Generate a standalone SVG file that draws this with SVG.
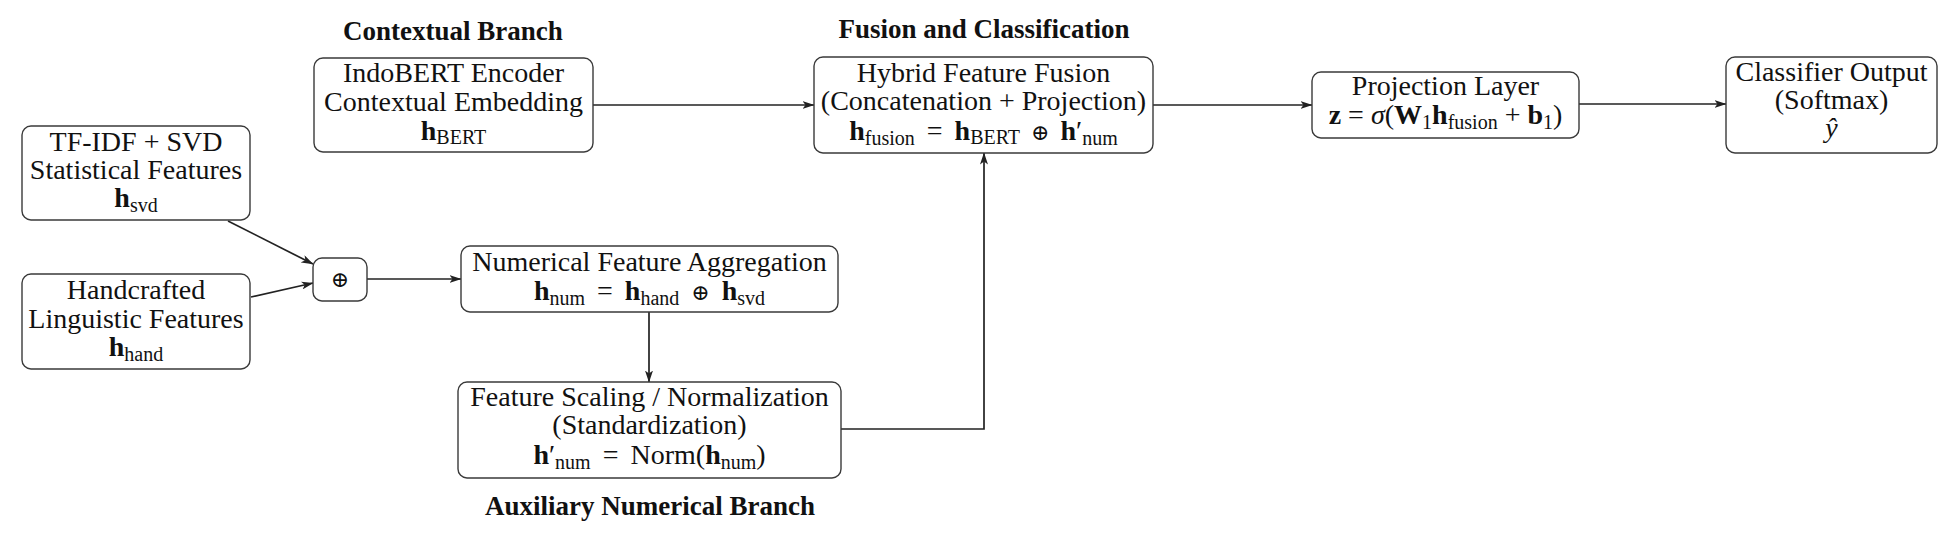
<svg xmlns="http://www.w3.org/2000/svg" width="1956" height="541" viewBox="0 0 1956 541">
<style>
.box{fill:#fff;stroke:#3a3a3a;stroke-width:1.4}
.t{font-family:"Liberation Serif","Times New Roman",serif;font-size:28px;fill:#111;text-anchor:middle}
.title{font-family:"Liberation Serif","Times New Roman",serif;font-size:27px;font-weight:bold;fill:#111;text-anchor:middle}
.b{font-weight:bold}
.s{font-size:20px}
.i{font-style:italic}
.op{font-family:"DejaVu Serif","Liberation Serif",serif;font-size:22px}
.edge{fill:none;stroke:#222;stroke-width:1.7}
</style>
<defs>
<marker id="arr" viewBox="0 0 12 8" refX="11.5" refY="4" markerWidth="12" markerHeight="8" markerUnits="userSpaceOnUse" orient="auto">
<path d="M0,0 L12,4 L0,8 L3,4 z" fill="#222"/>
</marker>
</defs>
<rect width="1956" height="541" fill="#fff"/>

<text class="title" x="453" y="40">Contextual Branch</text>
<text class="title" x="984" y="38">Fusion and Classification</text>
<text class="title" x="650" y="515">Auxiliary Numerical Branch</text>

<g id="connectors">
<path class="edge" d="M593,105 H814" marker-end="url(#arr)"/>
<path class="edge" d="M1153,105 H1312" marker-end="url(#arr)"/>
<path class="edge" d="M1579,104 H1726" marker-end="url(#arr)"/>
<path class="edge" d="M228,221 L313,264" marker-end="url(#arr)"/>
<path class="edge" d="M251,297 L313,283" marker-end="url(#arr)"/>
<path class="edge" d="M367,279 H461" marker-end="url(#arr)"/>
<path class="edge" d="M649,312 V382" marker-end="url(#arr)"/>
<path class="edge" d="M841,429 H984 V153" marker-end="url(#arr)"/>
</g>

<g id="tfidf">
<rect class="box" x="22" y="126" width="228" height="94" rx="9"/>
<text class="t" x="136" y="151">TF-IDF + SVD</text>
<text class="t" x="136" y="179">Statistical Features</text>
<text class="t" x="136" y="207"><tspan class="b">h</tspan><tspan class="s" dy="5">svd</tspan></text>
</g>

<g id="handcrafted">
<rect class="box" x="22" y="274" width="228" height="95" rx="9"/>
<text class="t" x="136" y="299">Handcrafted</text>
<text class="t" x="136" y="328">Linguistic Features</text>
<text class="t" x="136" y="356"><tspan class="b">h</tspan><tspan class="s" dy="5">hand</tspan></text>
</g>

<g id="concat">
<rect class="box" x="313" y="258" width="54" height="43" rx="9"/>
<text class="t op" x="340" y="287">⊕</text>
</g>

<g id="indobert">
<rect class="box" x="314" y="58" width="279" height="94" rx="9"/>
<text class="t" x="453.5" y="82">IndoBERT Encoder</text>
<text class="t" x="453.5" y="111">Contextual Embedding</text>
<text class="t" x="453.5" y="140"><tspan class="b">h</tspan><tspan class="s" dy="4">BERT</tspan></text>
</g>

<g id="fusion">
<rect class="box" x="814" y="57" width="339" height="96" rx="9"/>
<text class="t" x="983.5" y="82">Hybrid Feature Fusion</text>
<text class="t" x="983.5" y="110">(Concatenation + Projection)</text>
<text class="t" x="983.5" y="140"><tspan class="b">h</tspan><tspan class="s" dy="5">fusion</tspan><tspan dx="5" dy="-5"> = </tspan><tspan class="b" dx="5">h</tspan><tspan class="s" dy="4">BERT</tspan><tspan dx="4" dy="-4"> </tspan><tspan class="op">⊕</tspan><tspan dx="4"> </tspan><tspan class="b">h</tspan><tspan>′</tspan><tspan class="s" dy="5">num</tspan></text>
</g>

<g id="projection">
<rect class="box" x="1312" y="72" width="267" height="66" rx="9"/>
<text class="t" x="1445.5" y="95">Projection Layer</text>
<text class="t" x="1445.5" y="124"><tspan class="b">z</tspan><tspan> = </tspan><tspan class="i">σ</tspan><tspan>(</tspan><tspan class="b">W</tspan><tspan class="s" dy="5">1</tspan><tspan class="b" dy="-5">h</tspan><tspan class="s" dy="5">fusion</tspan><tspan dy="-5"> + </tspan><tspan class="b">b</tspan><tspan class="s" dy="5">1</tspan><tspan dy="-5">)</tspan></text>
</g>

<g id="classifier">
<rect class="box" x="1726" y="57" width="211" height="96" rx="9"/>
<text class="t" x="1831.5" y="81">Classifier Output</text>
<text class="t" x="1831.5" y="109">(Softmax)</text>
<text class="t" x="1831.5" y="137"><tspan class="i">ŷ</tspan></text>
</g>

<g id="numagg">
<rect class="box" x="461" y="246" width="377" height="66" rx="9"/>
<text class="t" x="649.5" y="271">Numerical Feature Aggregation</text>
<text class="t" x="649.5" y="300"><tspan class="b">h</tspan><tspan class="s" dy="5">num</tspan><tspan dx="5" dy="-5"> = </tspan><tspan class="b" dx="5">h</tspan><tspan class="s" dy="5">hand</tspan><tspan dx="5" dy="-5"> </tspan><tspan class="op">⊕</tspan><tspan dx="5"> </tspan><tspan class="b">h</tspan><tspan class="s" dy="5">svd</tspan></text>
</g>

<g id="scaling">
<rect class="box" x="458" y="382" width="383" height="96" rx="9"/>
<text class="t" x="649.5" y="406">Feature Scaling / Normalization</text>
<text class="t" x="649.5" y="434">(Standardization)</text>
<text class="t" x="649.5" y="464"><tspan class="b">h</tspan><tspan>′</tspan><tspan class="s" dy="5">num</tspan><tspan dx="5" dy="-5"> = </tspan><tspan dx="5">Norm(</tspan><tspan class="b">h</tspan><tspan class="s" dy="5">num</tspan><tspan dy="-5">)</tspan></text>
</g>
</svg>
